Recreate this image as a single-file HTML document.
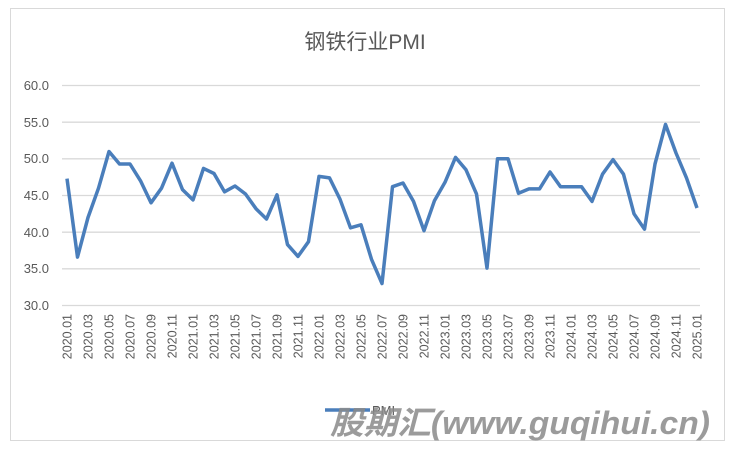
<!DOCTYPE html>
<html><head><meta charset="utf-8"><style>
body{margin:0;background:#fff;width:730px;height:453px;overflow:hidden}
text{font-family:"Liberation Sans","Noto Sans CJK SC",sans-serif}
</style></head><body>
<svg width="730" height="453" xmlns="http://www.w3.org/2000/svg">
<rect x="10.5" y="8.5" width="714" height="432" fill="#fff" stroke="#d9d9d9"/>
<text x="365" y="49" font-size="21" fill="#595959" text-anchor="middle">钢铁行业PMI</text>
<g stroke="#d9d9d9" stroke-width="1.3">
<line x1="62" x2="700" y1="85.5" y2="85.5"/><line x1="62" x2="700" y1="122.2" y2="122.2"/>
<line x1="62" x2="700" y1="158.8" y2="158.8"/><line x1="62" x2="700" y1="195.5" y2="195.5"/>
<line x1="62" x2="700" y1="232.2" y2="232.2"/><line x1="62" x2="700" y1="268.8" y2="268.8"/>
<line x1="62" x2="700" y1="305.5" y2="305.5"/></g>
<g font-size="13" fill="#595959" text-anchor="end">
<text x="49" y="90">60.0</text><text x="49" y="127">55.0</text><text x="49" y="163">50.0</text>
<text x="49" y="200">45.0</text><text x="49" y="237">40.0</text><text x="49" y="273">35.0</text><text x="49" y="310">30.0</text></g>
<g id="xl" font-size="12.5" fill="#595959" text-anchor="end"></g>
<polyline id="ln" fill="none" stroke="#4a7ebb" stroke-width="3.5" stroke-linejoin="round"/>
<line x1="325" x2="370" y1="410" y2="410" stroke="#4a7ebb" stroke-width="3.5"/>
<text x="372" y="415" font-size="13" fill="#595959">PMI</text>
<text x="330" y="434" font-size="32" font-weight="bold" font-style="italic" fill="#8a8a8a" fill-opacity="0.85" textLength="380" lengthAdjust="spacingAndGlyphs">股期汇(www.guqihui.cn)</text>
</svg>
<script>
var v=[47.3,36.6,42,46,51,49.3,49.3,47,44,46,49.4,45.8,44.4,48.7,48,45.5,46.3,45.2,43.2,41.8,45.1,38.3,36.7,38.7,47.6,47.4,44.5,40.6,41,36.3,33,46.2,46.7,44.2,40.2,44.3,46.8,50.2,48.5,45.2,35.1,50,50,45.3,45.9,45.9,48.2,46.2,46.2,46.2,44.2,47.9,49.9,47.9,42.5,40.4,49.3,54.7,50.8,47.4,43.3];
var p=v.map(function(d,i){return (67+10.5*i).toFixed(1)+","+(305.5-(d-30)*7.333).toFixed(1)}).join(" ");
document.getElementById("ln").setAttribute("points",p);
var g=document.getElementById("xl"),s="";
for(var i=0;i<=60;i+=2){var y=2020+Math.floor(i/12),m=i%12+1;var x=67+10.5*i+4.5;
s+='<text transform="translate('+x+',314) rotate(-90)">'+y+'.'+(m<10?'0':'')+m+'</text>';}
g.innerHTML=s;
</script>
</body></html>
